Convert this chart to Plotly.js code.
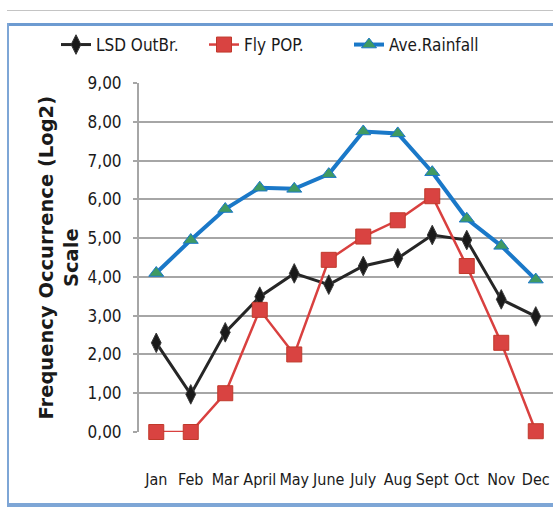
<!DOCTYPE html>
<html>
<head>
<meta charset="utf-8">
<script src="https://cdn.plot.ly/plotly-3.0.1.min.js"></script>
<style>
  html, body { margin: 0; padding: 0; background: #fff; }
  #wrap { position: relative; width: 553px; height: 507px; overflow: hidden; }
  #chart { position: absolute; left: 0; top: 0; width: 553px; height: 507px; }
  .deco { position: absolute; pointer-events: none; }
</style>
</head>
<body>
<div id="wrap">
  <div id="chart"></div>
  <div class="deco" style="left:7px; top:10px; width:546px; height:1px; background:#c4c4c4;"></div>
  <div class="deco" style="left:7px; top:23px; width:546px; height:3px; background:#6d9bd1;"></div>
  <div class="deco" style="left:7px; top:23px; width:2px; height:484px; background:#7ea6d6;"></div>
  <div class="deco" style="left:7px; top:503px; width:546px; height:4px; background:#7ea6d6;"></div>
</div>
<script>
const months = ["Jan","Feb","Mar","April","May","June","July","Aug","Sept","Oct","Nov","Dec"];
const lsdOutbreak = [2.30, 0.97, 2.57, 3.49, 4.09, 3.80, 4.28, 4.48, 5.08, 4.95, 3.42, 2.98];
const flyPop      = [0.00, 0.00, 1.00, 3.15, 2.00, 4.44, 5.04, 5.46, 6.08, 4.28, 2.30, 0.02];
const aveRainfall = [4.10, 4.95, 5.75, 6.30, 6.27, 6.65, 7.75, 7.70, 6.70, 5.50, 4.80, 3.93];
const yTicks = [0,1,2,3,4,5,6,7,8,9];

const font = '"Liberation Sans Narrow", "DejaVu Sans Condensed", "Liberation Sans", sans-serif';

const traces = [
  {
    name: "LSD OutBr.", x: months, y: lsdOutbreak, type: "scatter", mode: "lines+markers",
    line: {color: "#262626", width: 3},
    marker: {symbol: "diamond-tall", size: 14, color: "#1a1a1a", line: {color: "#3a3a3a", width: 1}},
    cliponaxis: false, legend: "legend"
  },
  {
    name: "Fly POP.", x: months, y: flyPop, type: "scatter", mode: "lines+markers",
    line: {color: "#d9403f", width: 2.5},
    marker: {symbol: "square", size: 15, color: "#d94341", line: {color: "#c0392b", width: 1}},
    cliponaxis: false, legend: "legend2"
  },
  {
    name: "Ave.Rainfall", x: months, y: aveRainfall, type: "scatter", mode: "lines+markers",
    line: {color: "#1a78c8", width: 4},
    marker: {symbol: "triangle-up", size: 13, color: "#3f9a62", line: {color: "#1a78c8", width: 1}},
    cliponaxis: false, legend: "legend3"
  }
];

function legendAt(px) {
  return {
    orientation: "h", xref: "container", x: px / 553, xanchor: "left",
    yref: "container", y: 1 - 45 / 507, yanchor: "middle",
    font: {family: font, size: 17, color: "#1a1a1a"},
    itemwidth: 30, bgcolor: "rgba(0,0,0,0)"
  };
}

const layout = {
  width: 553, height: 507,
  margin: {l: 139, r: 0, t: 83, b: 75},
  paper_bgcolor: "#ffffff", plot_bgcolor: "#ffffff",
  font: {family: font, size: 15, color: "#1a1a1a"},
  separators: ",.",
  showlegend: true,
  legend: legendAt(56),
  legend2: legendAt(204),
  legend3: legendAt(349),
  xaxis: {
    type: "category", range: [-0.5, 11.5], showgrid: false, zeroline: false,
    showline: false, ticks: "", ticklabelstandoff: 36,
    tickfont: {family: font, size: 16, color: "#1a1a1a"},
    automargin: false
  },
  yaxis: {
    range: [0, 9], tickvals: yTicks, tickformat: ".2f",
    showgrid: true, gridcolor: "#a6a6a6", gridwidth: 2,
    zeroline: false, showline: true, linecolor: "#a6a6a6", linewidth: 2,
    ticks: "outside", ticklen: 4, tickcolor: "#a6a6a6", tickwidth: 2,
    ticklabelstandoff: 8,
    tickfont: {family: font, size: 17, color: "#1a1a1a"},
    automargin: false
  },
  annotations: [{
    text: "<b>Frequency Occurrence (Log2)<br>Scale</b>",
    xref: "paper", yref: "paper", x: 0, y: 0.5, xanchor: "center", yanchor: "middle",
    xshift: -81, textangle: -90, showarrow: false,
    font: {family: '"DejaVu Sans", "Liberation Sans", sans-serif', size: 19.5, color: "#1a1a1a"}
  }]
};

Plotly.newPlot("chart", traces, layout, {displayModeBar: false, staticPlot: true});
</script>
</body>
</html>
